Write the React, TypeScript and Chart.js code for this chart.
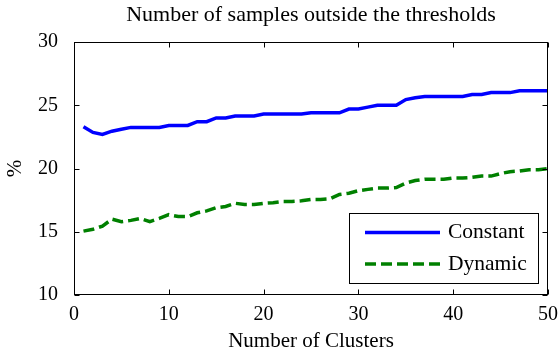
import React, { useEffect, useRef } from "react";
import { Chart, registerables } from "chart.js";

Chart.register(...registerables);

const clusters = [
  1, 2, 3, 4, 5, 6, 7, 8, 9, 10, 11, 12, 13, 14, 15, 16, 17, 18, 19, 20, 21, 22, 23, 24, 25,
  26, 27, 28, 29, 30, 31, 32, 33, 34, 35, 36, 37, 38, 39, 40, 41, 42, 43, 44, 45, 46, 47, 48, 49, 50,
];

const constantSeries = [
  23.3, 22.85, 22.7, 22.95, 23.1, 23.25, 23.25, 23.25, 23.25, 23.4,
  23.4, 23.4, 23.7, 23.7, 24.0, 24.0, 24.15, 24.15, 24.15, 24.3,
  24.3, 24.3, 24.3, 24.3, 24.4, 24.4, 24.4, 24.4, 24.7, 24.7,
  24.85, 25.0, 25.0, 25.0, 25.45, 25.6, 25.7, 25.7, 25.7, 25.7,
  25.7, 25.85, 25.85, 26.0, 26.0, 26.0, 26.15, 26.15, 26.15, 26.15,
];

const dynamicSeries = [
  15.05, 15.2, 15.45, 16.0, 15.8, 15.9, 16.05, 15.8, 16.05, 16.35,
  16.2, 16.2, 16.5, 16.65, 16.9, 17.0, 17.25, 17.15, 17.15, 17.25,
  17.3, 17.4, 17.4, 17.45, 17.55, 17.55, 17.6, 17.95, 18.05, 18.25,
  18.35, 18.45, 18.45, 18.5, 18.85, 19.05, 19.15, 19.15, 19.15, 19.25,
  19.25, 19.3, 19.4, 19.4, 19.6, 19.75, 19.8, 19.9, 19.9, 20.0,
];

const xTicks = [0, 10, 20, 30, 40, 50];
const yTicks = [10, 15, 20, 25, 30];

const seriesLabels = ["Constant", "Dynamic"];
const titleText = "Number of samples outside the thresholds";
const xTitle = "Number of Clusters";
const yTitle = "%";

const FONT = "'Liberation Serif', 'Times New Roman', serif";
const FS = 20;

const framePlugin = {
  id: "matlabFrame",
  afterDatasetsDraw(chart: any) {
    const { ctx, chartArea, scales } = chart;
    const { left, right, top, bottom } = chartArea;
    const xs = scales.x;
    const ys = scales.y;
    ctx.save();
    // title centred over the axes
    ctx.fillStyle = "#000";
    ctx.font = `22px ${FONT}`;
    ctx.textAlign = "center";
    ctx.textBaseline = "middle";
    ctx.fillText(titleText, (left + right) / 2, top - 27);

    ctx.strokeStyle = "#000";
    ctx.lineWidth = 1;
    const L = Math.round(left) + 0.5;
    const R = Math.round(right) - 0.5;
    const T = Math.round(top) + 0.5;
    const B = Math.round(bottom) - 0.5;
    ctx.strokeRect(L, T, R - L, B - T);
    const tl = 5;
    ctx.beginPath();
    for (const v of xTicks) {
      const px = Math.round(xs.getPixelForValue(v)) + 0.5;
      ctx.moveTo(px, B);
      ctx.lineTo(px, B - tl);
      ctx.moveTo(px, T);
      ctx.lineTo(px, T + tl);
    }
    for (const v of yTicks) {
      const py = Math.round(ys.getPixelForValue(v)) + 0.5;
      ctx.moveTo(L, py);
      ctx.lineTo(L + tl, py);
      ctx.moveTo(R, py);
      ctx.lineTo(R - tl, py);
    }
    ctx.stroke();

    // legend box
    const boxRight = Math.round(right) - 10;
    const boxBottom = Math.round(bottom) - 12;
    const boxW = 189;
    const boxH = 70;
    const boxLeft = boxRight - boxW;
    const boxTop = boxBottom - boxH;
    ctx.fillStyle = "#fff";
    ctx.fillRect(boxLeft, boxTop, boxW, boxH);
    ctx.strokeStyle = "#000";
    ctx.lineWidth = 1;
    ctx.strokeRect(boxLeft + 0.5, boxTop + 0.5, boxW, boxH);
    const rows = [boxTop + 19.5, boxTop + 51];
    chart.data.datasets.forEach((ds: any, i: number) => {
      const y = rows[i];
      ctx.save();
      ctx.strokeStyle = ds.borderColor;
      ctx.lineWidth = ds.borderWidth;
      ctx.setLineDash(ds.borderDash || []);
      ctx.lineCap = "butt";
      ctx.beginPath();
      ctx.moveTo(boxLeft + 16, y);
      ctx.lineTo(boxLeft + 91, y);
      ctx.stroke();
      ctx.restore();
      ctx.fillStyle = "#000";
      ctx.font = `21.5px ${FONT}`;
      ctx.textBaseline = "middle";
      ctx.textAlign = "left";
      ctx.fillText(ds.label, boxLeft + 99, y);
    });
    ctx.restore();
  },
};

export default function App() {
  const canvasRef = useRef<HTMLCanvasElement | null>(null);

  useEffect(() => {
    if (!canvasRef.current) return;
    Chart.defaults.font.family = FONT;
    const chart = new Chart(canvasRef.current, {
      type: "line",
      data: {
        datasets: [
          {
            label: seriesLabels[0],
            data: clusters.map((x, i) => ({ x, y: constantSeries[i] })),
            borderColor: "#0000ff",
            backgroundColor: "#0000ff",
            borderWidth: 3.5,
            pointRadius: 0,
            tension: 0,
            fill: false,
          },
          {
            label: seriesLabels[1],
            data: clusters.map((x, i) => ({ x, y: dynamicSeries[i] })),
            borderColor: "#008000",
            backgroundColor: "#008000",
            borderWidth: 3.5,
            borderDash: [11, 5],
            pointRadius: 0,
            tension: 0,
            fill: false,
          },
        ],
      },
      options: {
        animation: false,
        responsive: true,
        maintainAspectRatio: false,
        layout: { padding: { left: 0, right: 11, top: 42, bottom: 0 } },
        plugins: {
          legend: { display: false },
          tooltip: { enabled: false },
          title: { display: false },
        },
        scales: {
          x: {
            type: "linear",
            min: 0,
            max: 50,
            ticks: {
              stepSize: 10,
              color: "#000",
              font: { size: FS, family: FONT },
              padding: 0,
              maxRotation: 0,
            },
            grid: { display: false },
            border: { display: false },
            title: {
              display: true,
              text: xTitle,
              color: "#000",
              font: { size: 21, family: FONT },
              padding: { top: 0, bottom: 0 },
            },
            afterFit: (s: any) => {
              s.height = 59;
            },
          },
          y: {
            type: "linear",
            min: 10,
            max: 30,
            ticks: {
              stepSize: 5,
              color: "#000",
              font: { size: FS, family: FONT },
              padding: 8,
            },
            grid: { display: false },
            border: { display: false },
            title: {
              display: true,
              text: yTitle,
              color: "#000",
              font: { size: 21, family: FONT },
              padding: { top: 3, bottom: 0 },
            },
            afterFit: (s: any) => {
              s.width = 74;
            },
          },
        },
      },
      plugins: [framePlugin],
    } as any);
    return () => chart.destroy();
  }, []);

  return (
    <div style={{ position: "absolute", left: 0, top: 0, width: 559, height: 354, background: "#fff" }}>
      <canvas ref={canvasRef} />
    </div>
  );
}
